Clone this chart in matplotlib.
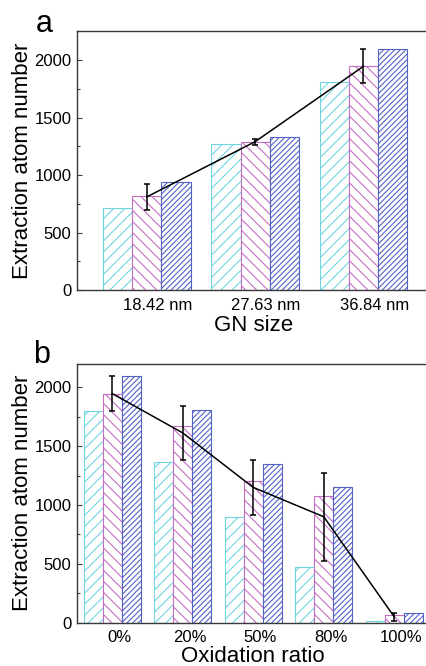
import numpy as np
import matplotlib
matplotlib.use('Agg')
import matplotlib.pyplot as plt
from matplotlib.ticker import MultipleLocator

plt.rcParams['font.family'] = ['Liberation Sans', 'DejaVu Sans']
plt.rcParams['hatch.linewidth'] = 0.8

# panel a: GN size
sizes = ['18.42 nm', '27.63 nm', '36.84 nm']
a_cyan = [714, 1274, 1805]
a_magenta = [816, 1289, 1945]
a_blue = [937, 1329, 2096]
a_mean = [810, 1290, 1945]
a_err = [113, 27, 147]

# panel b: oxidation ratio
ratios = ['0%', '20%', '50%', '80%', '100%']
b_cyan = [1802, 1363, 895, 470, 17]
b_magenta = [1943, 1671, 1204, 1074, 65]
b_blue = [2093, 1805, 1348, 1150, 79]
b_mean = [1946, 1612, 1149, 900, 50]
b_err = [147, 227, 233, 372, 32]

cyan = '#6fd6e0'
magenta = '#c46ec2'
blue = '#5262c6'
spine_col = '#3a3a3a'
w = 0.27

fig = plt.figure(figsize=(4.27, 6.66), dpi=100)
ax1 = fig.add_axes([77/427, 1 - 290/666, 353/427, 258.7/666])
ax2 = fig.add_axes([77/427, 1 - 622.7/666, 352.5/427, 259/666])


def draw(ax, labels, c, m, b, mean, err, ymax, xlim, label_shift):
    x = np.arange(len(labels))
    ax.bar(x - w, c, w, facecolor='white', edgecolor=cyan, hatch='///', linewidth=0.8)
    ax.bar(x, m, w, facecolor='white', edgecolor=magenta, hatch='\\\\\\', linewidth=0.8)
    ax.bar(x + w, b, w, facecolor='white', edgecolor=blue, hatch='//////', linewidth=0.8)
    ax.plot(x, mean, color='black', linewidth=1.1, zorder=4)
    ax.errorbar(x, mean, yerr=err, fmt='none', ecolor='black', elinewidth=1.1,
                capsize=2.3, capthick=1.1, zorder=5)
    ax.set_xlim(*xlim)
    ax.set_ylim(0, ymax)
    ax.set_xticks(x + label_shift)
    ax.set_xticklabels(labels, fontsize=12)
    ax.tick_params(axis='x', length=0, pad=5.5)
    ax.yaxis.set_major_locator(MultipleLocator(500))
    ax.yaxis.set_minor_locator(MultipleLocator(250))
    ax.tick_params(axis='y', which='major', direction='in', length=3.5, width=0.8,
                   color=spine_col, labelsize=12, pad=4)
    ax.tick_params(axis='y', which='minor', direction='in', length=2, width=0.8,
                   color=spine_col)
    for s in ax.spines.values():
        s.set_color(spine_col)
        s.set_linewidth(1.0)
    ax.set_ylabel('Extraction atom number', fontsize=16)
    ax.yaxis.set_label_coords(-0.125, 0.5)


draw(ax1, sizes, a_cyan, a_magenta, a_blue, a_mean, a_err, 2250, (-0.645, 2.615), 0.1)
ax1.set_xlabel('GN size', fontsize=16, labelpad=2)

draw(ax2, ratios, b_cyan, b_magenta, b_blue, b_mean, b_err, 2200, (-0.5, 4.5), 0.1)
ax2.set_xlabel('Oxidation ratio', fontsize=16, labelpad=0.5)

fig.text(36/427, 1 - 31.7/666, 'a', fontsize=22, va='baseline', ha='left')
fig.text(33/427, 1 - 363.3/666, 'b', fontsize=22, va='baseline', ha='left')

plt.savefig('out.png', dpi=100)
